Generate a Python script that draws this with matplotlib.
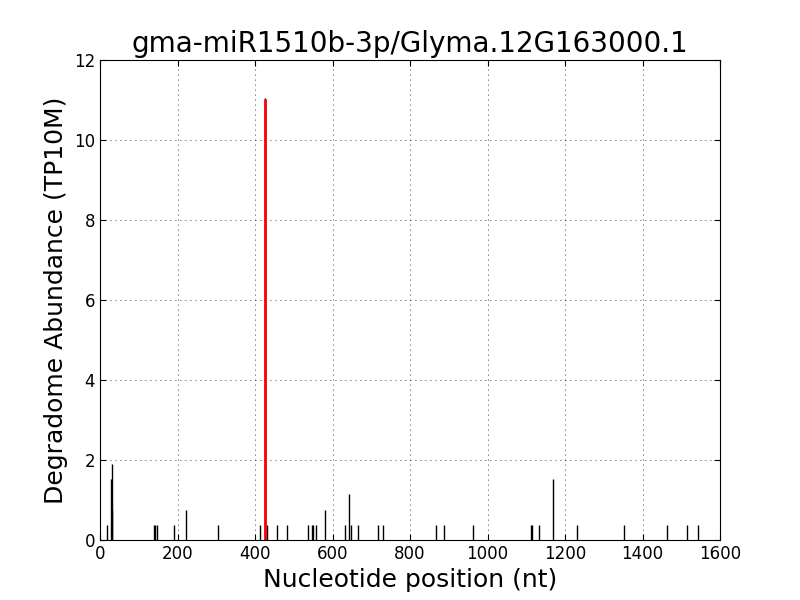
import matplotlib
matplotlib.use("Agg")
import matplotlib.pyplot as plt

# Degradome peaks (position in nt, abundance in TP10M)
positions = [19, 29, 30, 32, 139, 142, 147, 192, 223, 304, 414, 426, 432, 456, 483,
             538, 546, 550, 557, 581, 631, 642, 647, 665, 718, 730, 868, 889, 963,
             1112, 1115, 1134, 1170, 1232, 1353, 1464, 1516, 1544]
abundance = [0.38, 1.52, 0.75, 1.9, 0.38, 0.38, 0.38, 0.38, 0.75, 0.38, 0.38, 11.05, 0.38, 0.38, 0.38,
             0.38, 0.38, 0.38, 0.38, 0.75, 0.38, 1.14, 0.38, 0.38, 0.38, 0.38, 0.38, 0.38, 0.38,
             0.38, 0.38, 0.38, 1.52, 0.38, 0.38, 0.38, 0.38, 0.38]

# Cleavage site of the miRNA
site_pos = [426]
site_val = [11.02]

fig = plt.figure(figsize=(8, 6), dpi=100)
ax = fig.add_axes([0.125, 0.1, 0.775, 0.8])

ax.vlines(positions, 0, abundance, colors="black", linewidth=1)
ax.vlines(site_pos, 0, site_val, colors="red", linewidth=2)

ax.set_xlim(0, 1600)
ax.set_ylim(0, 12)
ax.set_xticks(range(0, 1601, 200))
ax.set_yticks(range(0, 13, 2))
ax.grid(True, linestyle=(0, (1, 5)), color="black", linewidth=0.6)
ax.tick_params(direction="in", top=True, right=True, labelsize=12, length=4)
for s in ax.spines.values():
    s.set_color("black")

ax.set_title("gma-miR1510b-3p/Glyma.12G163000.1", fontsize=20)
ax.set_xlabel("Nucleotide position (nt)", fontsize=18)
ax.set_ylabel("Degradome Abundance (TP10M)", fontsize=18)

fig.savefig("out.png", dpi=100)
